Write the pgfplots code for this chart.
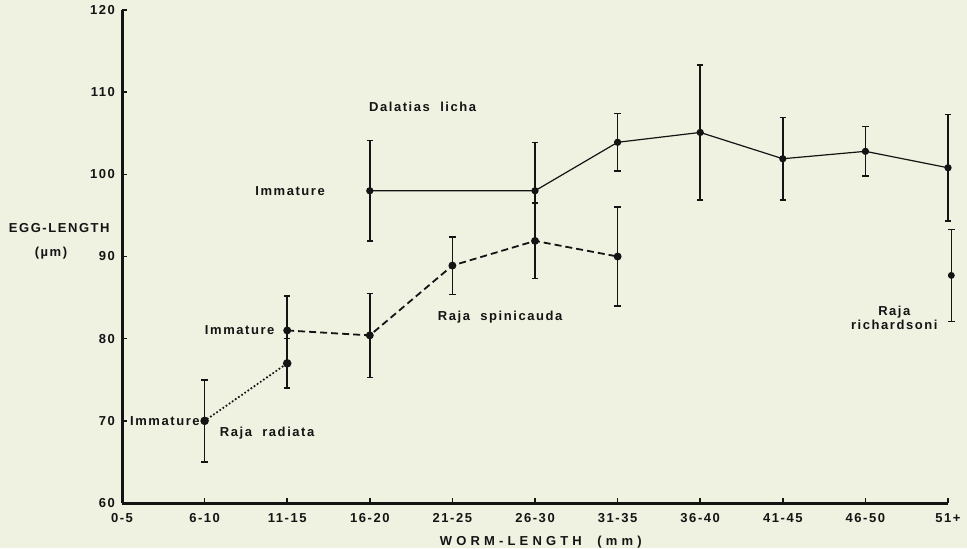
\documentclass[border=0pt]{standalone}
\usepackage{fontspec}
\setmainfont{Liberation Sans}[LetterSpace=12]
\newfontfamily\widefont{Liberation Sans}[LetterSpace=32]
\usepackage{pgfplots}
\pgfplotsset{compat=1.18}
\definecolor{bgcol}{RGB}{239,241,225}
\definecolor{ink}{RGB}{20,20,20}
\pgfplotsset{
  mybars/.style={error bars/.cd, y dir=both, y explicit,
    error bar style={solid, line width=0.75pt, line cap=butt},
    error mark options={solid, rotate=90, mark size=1.6pt, line width=0.75pt}},
}
\begin{document}
\begin{tikzpicture}
\fill[bgcol] (-61pt,-22.5pt) rectangle (422.5pt,251.5pt);
\begin{axis}[
  at={(0,0)}, anchor=south west,
  scale only axis, width=413pt, height=246.5pt,
  xmin=0, xmax=10, ymin=60, ymax=120,
  axis lines=left,
  axis line style={-, line width=1.5pt, ink},
  xtick={0,1,...,10},
  xticklabels={0-5,6-10,11-15,16-20,21-25,26-30,31-35,36-40,41-45,46-50,51+},
  ytick={60,70,...,120},
  tick align=inside, major tick length=2.5pt,
  tick style={ink, line width=0.8pt},
  /pgf/number format/assume math mode=true,
  ticklabel style={font=\fontsize{6.5}{7}\selectfont\bfseries, text=ink},
  xticklabel style={yshift=-1.5pt},
  clip=false,
]
% Raja radiata (dotted)
\addplot[ink, line width=1.2pt, line cap=round, dash pattern=on 0pt off 1.9pt,
  mark=*, mark size=1.5pt, mark options={solid}, mybars]
  coordinates {(1,70) +- (0,5) (2,77) +- (0,3)};
% Raja spinicauda (dashed)
\addplot[ink, line width=0.9pt, dash pattern=on 3.5pt off 2pt,
  mark=*, mark size=1.5pt, mark options={solid}, mybars]
  coordinates {(2,81) +- (0,4.2) (3,80.4) +- (0,5.1) (4,88.9) +- (0,3.5) (5,91.9) +- (0,4.6) (6,90) +- (0,6)};
% Dalatias licha (solid)
\addplot[ink, line width=0.6pt, mark=*, mark size=1.5pt, mybars]
  coordinates {(3,98) +- (0,6.1) (5,98) +- (0,5.9) (6,103.9) +- (0,3.5) (7,105.1) +- (0,8.2) (8,101.9) +- (0,5) (9,102.8) +- (0,3) (10,100.8) +- (0,6.5)};
% Raja richardsoni (single point)
\addplot[ink, only marks, mark=*, mark size=1.5pt, mybars]
  coordinates {(10.04,87.7) +- (0,5.6)};
% annotations
\begin{scope}[every node/.style={font=\fontsize{6.5}{8}\selectfont\bfseries, text=ink, inner sep=0pt}]
\node at (axis cs:3.64,108.2) {Dalatias\ \ licha};
\node[anchor=east] at (axis cs:2.46,98) {Immature};
\node[anchor=east] at (axis cs:1.85,81) {Immature};
\node[anchor=east] at (axis cs:0.945,70) {Immature};
\node[anchor=west] at (axis cs:1.18,68.5) {Raja\ \ radiata};
\node[anchor=west] at (axis cs:3.82,82.6) {Raja\ \ spinicauda};
\node[align=center] at (axis cs:9.35,82.5) {Raja\\[-1pt]richardsoni};
\node at (axis cs:-0.76,93.45) {EGG-LENGTH};
\node at (axis cs:-0.86,90.4) {(µm)};
\node[font=\fontsize{6.5}{8}\selectfont\bfseries\widefont] at (axis cs:5.07,55.26) {WORM-LENGTH\ \ (mm)};
\end{scope}
\end{axis}
\pgfresetboundingbox
\path[use as bounding box] (-61pt,-22.5pt) rectangle (422.5pt,251.5pt);
\end{tikzpicture}
\end{document}
